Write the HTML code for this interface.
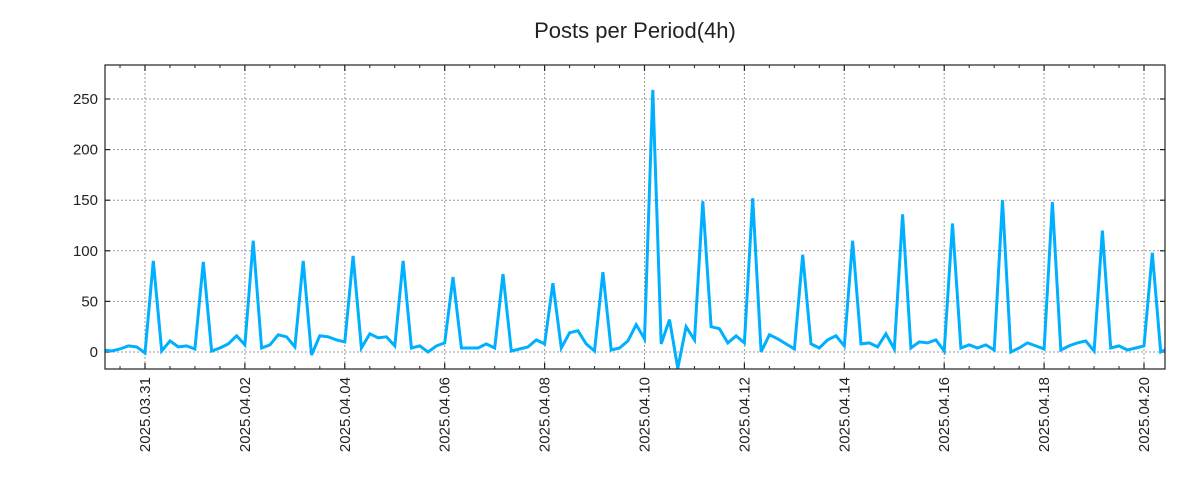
<!DOCTYPE html>
<html><head><meta charset="utf-8">
<style>
html,body{margin:0;padding:0;background:#fff;}
svg{display:block;font-family:"Liberation Sans","DejaVu Sans",sans-serif;}
</style></head>
<body>
<svg id="chart" width="1200" height="500" viewBox="0 0 1200 500" xmlns="http://www.w3.org/2000/svg">
<rect x="0" y="0" width="1200" height="500" fill="#fff"/>
<text x="635" y="38" text-anchor="middle" font-size="22" fill="#222">Posts per Period(4h)</text>
<g id="grid"></g>
<g id="axes"></g>
<clipPath id="clip"><rect x="105" y="65" width="1060" height="304"/></clipPath>
<g id="series" clip-path="url(#clip)"></g>
<rect x="105" y="65" width="1060" height="304" fill="none" stroke="#222" stroke-width="1.2"/>
</svg>
<script>
// start 2025-03-30 04:00, every 4h
const startDay = -1; // days relative to 2025.03.31
const startHour = 4;
const values = [
2,1,3,6,5,
-1,90,1,11,5,6,
3,89,1,4,8,16,
7,110,4,7,17,15,
5,90,-3,16,15,12,
10,95,4,18,14,15,
6,90,4,6,0,6,
9,74,4,4,4,8,
4,77,1,3,5,12,
8,68,4,19,21,8,
1,79,2,4,11,27,
13,259,8,32,-16,25,
12,149,25,23,9,16,
9,152,0,17,13,8,
3,96,8,4,12,16,
6,110,8,9,5,18,
3,136,4,10,9,12,
1,127,4,7,4,7,
2,150,0,4,9,6,
3,148,2,6,9,11,
1,120,4,6,2,4,
6,98,0,4,5,8
];
const yTicks = [0,50,100,150,200,250];
const xTickLabels = ["2025.03.31","2025.04.02","2025.04.04","2025.04.06","2025.04.08","2025.04.10","2025.04.12","2025.04.14","2025.04.16","2025.04.18","2025.04.20"];

const NS = "http://www.w3.org/2000/svg";
const L=105,R=1165,T=65,B=369;
const dayPx = 49.95;
function xDay(d){ return 145 + d*dayPx; }
function y(v){ return 352 - v*1.012; }
function mk(tag, attrs, parent){ const e=document.createElementNS(NS,tag); for(const k in attrs) e.setAttribute(k,attrs[k]); parent.appendChild(e); return e; }
const grid=document.getElementById('grid'), axes=document.getElementById('axes'), series=document.getElementById('series');

yTicks.forEach(v=>{
  const g=mk('line',{x1:L,x2:R,y1:y(v),y2:y(v),stroke:'#999','stroke-dasharray':'2,2','stroke-width':1},grid);
  
  
  mk('line',{x1:L,x2:L+5,y1:y(v),y2:y(v),stroke:'#222','stroke-width':1.2},axes);
  mk('line',{x1:R-5,x2:R,y1:y(v),y2:y(v),stroke:'#222','stroke-width':1.2},axes);
  const t=mk('text',{x:L-7,y:y(v)+5,'text-anchor':'end','font-size':15,fill:'#222'},axes);
  t.textContent=v;
  
  
});
xTickLabels.forEach((lab,i)=>{
  const x=xDay(i*2);
  const g=mk('line',{x1:x,x2:x,y1:T,y2:B,stroke:'#999','stroke-dasharray':'2,2','stroke-width':1},grid);
  
  
  mk('line',{x1:x,x2:x,y1:B-6,y2:B,stroke:'#222','stroke-width':1.2},axes);
  mk('line',{x1:x,x2:x,y1:T,y2:T+6,stroke:'#222','stroke-width':1.2},axes);
  const t=mk('text',{x:0,y:0,'text-anchor':'end','font-size':15,fill:'#222',transform:`translate(${x+5},${B+8}) rotate(-90)`},axes);
  t.textContent=lab;
  
  
});
for(let h=-1;h<=21;h+=0.5){
  if(Number.isInteger(h/2)) continue;
  const x=xDay(h); if(x<L||x>R) continue;
  mk('line',{x1:x,x2:x,y1:B-3,y2:B,stroke:'#222','stroke-width':1},axes);
  mk('line',{x1:x,x2:x,y1:T,y2:T+3,stroke:'#222','stroke-width':1},axes);
}
const pts = values.map((v,i)=>{ const d=startDay+(startHour+4*i)/24; return xDay(d).toFixed(1)+','+y(v).toFixed(1); });
const line=mk('polyline',{points:pts.join(' '),fill:'none',stroke:'#00b0ff','stroke-width':3,'stroke-linejoin':'miter'},series);


</script>
</body></html>
